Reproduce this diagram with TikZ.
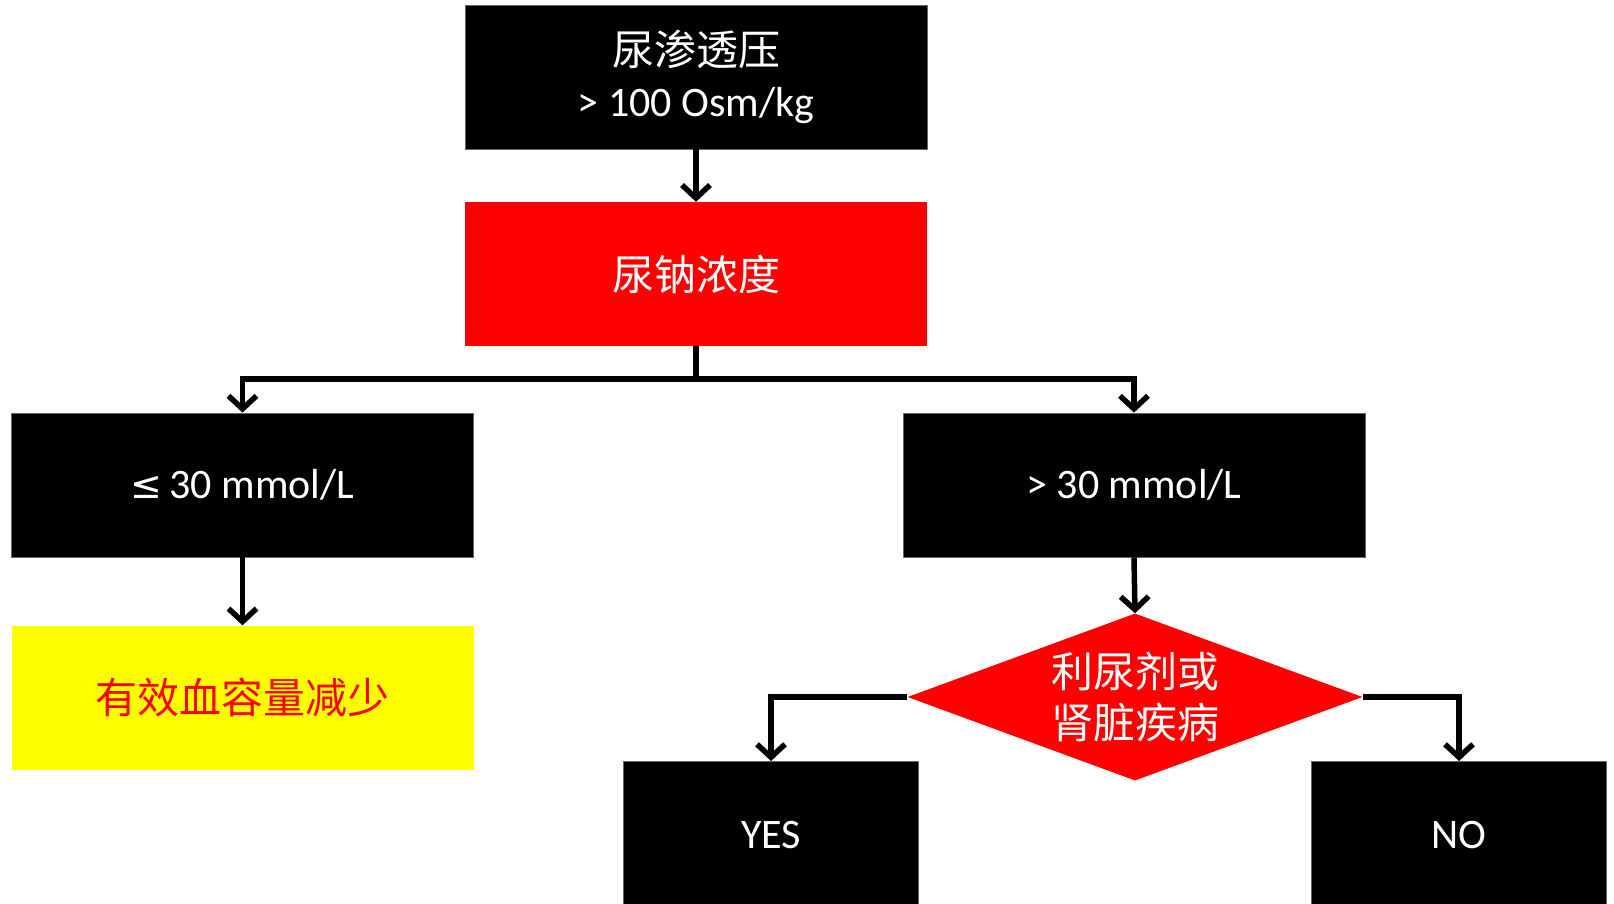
\documentclass[tikz,border=0pt]{standalone}
\usepackage{fontspec}
\setmainfont{Carlito}
\newfontfamily\cjk{Noto Sans CJK SC}
\newfontfamily\symf{DejaVu Sans}
\usetikzlibrary{arrows.meta,shapes.geometric}
\definecolor{bred}{RGB}{255,0,0}
\definecolor{byel}{RGB}{255,255,0}
\tikzset{
  box/.style={rectangle, inner sep=0pt, minimum width=462pt, minimum height=144pt, align=center, font=\fontsize{42}{53}\selectfont, text=white},
  blackbox/.style={box, fill=black, draw=black!60, line width=0.8pt},
  conn/.style={line width=5.5pt, draw=black},
  arr/.style={conn, -{Straight Barb[length=13pt,width=28pt,line width=5.5pt]}},
}
\begin{document}
\begin{tikzpicture}[x=1pt,y=-1pt]
\useasboundingbox (0,0) rectangle (1614,903);
\node[blackbox] (osm) at (696,77) {{\cjk 尿渗透压}\\[-2pt]> 100 Osm/kg};
\node[box, fill=bred] (na) at (696,274) {\cjk 尿钠浓度};
\node[blackbox] (le) at (242.5,485) {{\symf\fontsize{38}{38}\selectfont ≤}\,30 mmol/L};
\node[blackbox] (gt) at (1134,485) {> 30 mmol/L};
\node[box, fill=byel, text=bred] (vol) at (242.5,697.5) {\cjk 有效血容量减少};
\node[diamond, fill=bred, inner sep=0pt, minimum width=455pt, minimum height=167pt,
  label={[text=white, align=center, font=\fontsize{42}{51}\selectfont\cjk]center:利尿剂或\\肾脏疾病}] (dia) at (1135,697) {};
\node[blackbox, minimum width=295pt, minimum height=148pt, anchor=north] (yes) at (771,761) {YES};
\node[blackbox, minimum width=295pt, minimum height=148pt, anchor=north] (no) at (1459,761) {NO};
\coordinate (j) at (696,379);
\draw[arr] (osm.south) -- (na.north);
\draw[conn] (na.south) -- (j);
\draw[arr] (j) -| (le.north);
\draw[arr] (j) -| (gt.north);
\draw[arr] (le.south) -- (vol.north);
\draw[arr] (gt.south) -- (dia.north);
\draw[arr] (dia.west) -| (yes.north);
\draw[arr] (dia.east) -| (no.north);
\end{tikzpicture}
\end{document}
